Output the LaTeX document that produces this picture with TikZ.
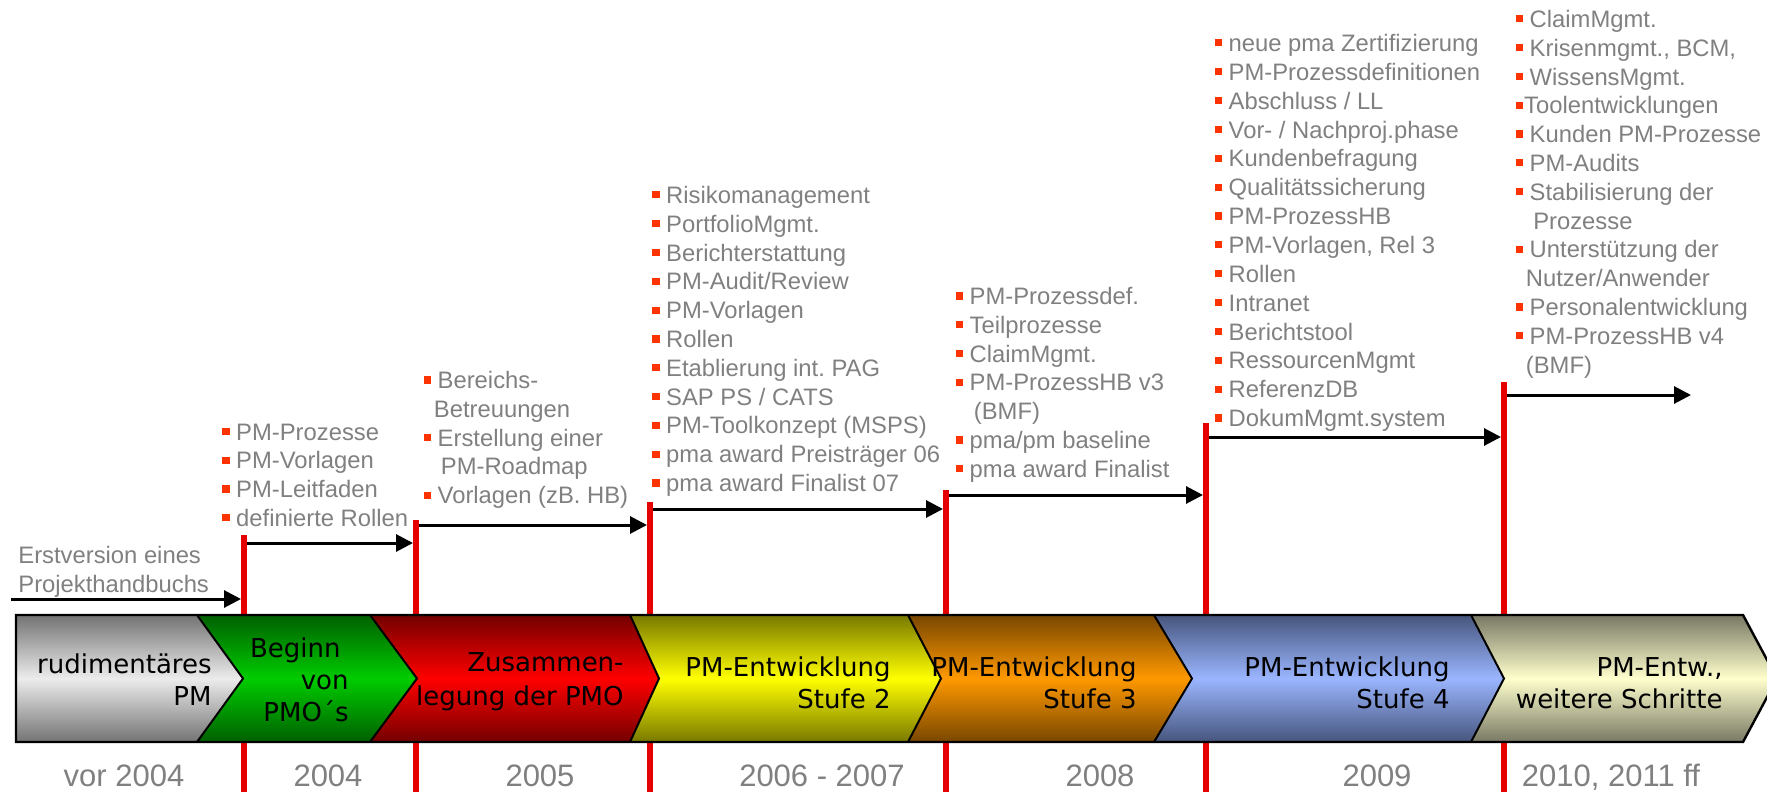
\documentclass[tikz,border=0pt]{standalone}
\usepackage{fontspec}
\setmainfont{Liberation Sans}
\newfontfamily\chevfont{DejaVu Sans}
\usetikzlibrary{arrows.meta}
\definecolor{txtgray}{RGB}{128,128,128}
\definecolor{bulred}{RGB}{255,51,0}
\definecolor{linered}{RGB}{228,0,0}
\definecolor{grayD}{RGB}{115,115,115}\definecolor{grayL}{RGB}{236,236,236}
\definecolor{greenD}{RGB}{0,95,0}\definecolor{greenL}{RGB}{0,204,0}
\definecolor{redD}{RGB}{115,0,0}\definecolor{redL}{RGB}{255,0,0}
\definecolor{yelD}{RGB}{120,120,0}\definecolor{yelL}{RGB}{255,255,0}
\definecolor{oraD}{RGB}{120,70,0}\definecolor{oraL}{RGB}{255,153,0}
\definecolor{bluD}{RGB}{70,85,125}\definecolor{bluL}{RGB}{155,182,255}
\definecolor{beiD}{RGB}{120,120,100}\definecolor{beiL}{RGB}{255,255,205}
\newcommand{\bul}{\textcolor{bulred}{\rule[2.5pt]{3.6pt}{3.6pt}}\ }
\newcommand{\bulns}{\textcolor{bulred}{\rule[2.5pt]{3.6pt}{3.6pt}}\hspace{0.5pt}}
\frenchspacing
\begin{document}
\begin{tikzpicture}[x=0.5pt,y=-0.5pt,
  lst/.style={font=\fontsize{11.9}{14.4}\selectfont, text=txtgray, anchor=base west, inner sep=0pt},
  yr/.style={font=\fontsize{15.5}{18}\selectfont, text=txtgray, anchor=base, inner sep=0pt},
  chev/.style={font=\chevfont\fontsize{13}{16}\selectfont, align=right, anchor=east, inner sep=0pt},
  arr/.style={line width=1.5pt, -{Triangle[length=8.5pt,width=8.5pt]}, shorten >=1.5pt},
  redline/.style={draw=linered, line width=3pt},
  barline/.style={draw=black, line width=1pt, line join=miter}]
\clip (0,0) rectangle (1767,792);
\path[use as bounding box] (0,0) rectangle (1767,792);

% red milestone lines
\coordinate (L1t) at (244,535); \coordinate (L1b) at (244,792);
\coordinate (L2t) at (416,520); \coordinate (L2b) at (416,792);
\coordinate (L3t) at (650,502); \coordinate (L3b) at (650,792);
\coordinate (L4t) at (946,490); \coordinate (L4b) at (946,792);
\coordinate (L5t) at (1206,423); \coordinate (L5b) at (1206,792);
\coordinate (L6t) at (1504,382); \coordinate (L6b) at (1504,792);
\foreach \k in {1,...,6} \draw[redline] (L\k t) -- (L\k b);

% chevron bar
\shade[top color=grayD, bottom color=grayD, middle color=grayL]
  (16,615) -- (197,615) -- (243,678.5) -- (197,742) -- (16,742) -- cycle;
\shade[top color=greenD, bottom color=greenD, middle color=greenL]
  (197,615) -- (370,615) -- (417,678.5) -- (370,742) -- (197,742) -- (243,678.5) -- cycle;
\shade[top color=redD, bottom color=redD, middle color=redL]
  (370,615) -- (630,615) -- (659,678.5) -- (630,742) -- (370,742) -- (417,678.5) -- cycle;
\shade[top color=yelD, bottom color=yelD, middle color=yelL]
  (630,615) -- (908,615) -- (941,678.5) -- (908,742) -- (630,742) -- (659,678.5) -- cycle;
\shade[top color=oraD, bottom color=oraD, middle color=oraL]
  (908,615) -- (1154,615) -- (1192,678.5) -- (1154,742) -- (908,742) -- (941,678.5) -- cycle;
\shade[top color=bluD, bottom color=bluD, middle color=bluL]
  (1154,615) -- (1471,615) -- (1504,678.5) -- (1471,742) -- (1154,742) -- (1192,678.5) -- cycle;
\shade[top color=beiD, bottom color=beiD, middle color=beiL]
  (1471,615) -- (1743,615) -- (1777,678.5) -- (1743,742) -- (1471,742) -- (1504,678.5) -- cycle;
\draw[barline, line width=1.2pt] (16,615) -- (1743,615) -- (1777,678.5) -- (1743,742) -- (16,742) -- cycle;
\draw[barline] (197,615) -- (243,678.5) -- (197,742);
\draw[barline] (370,615) -- (417,678.5) -- (370,742);
\draw[barline] (630,615) -- (659,678.5) -- (630,742);
\draw[barline] (908,615) -- (941,678.5) -- (908,742);
\draw[barline] (1154,615) -- (1192,678.5) -- (1154,742);
\draw[barline] (1471,615) -- (1504,678.5) -- (1471,742);

% chevron texts
\node[chev] (c1) at (212,680) {rudimentäres\\PM};
\node[chev] (c2) at (349,680) {Beginn\hspace*{4pt}\\von\\PMO´s};
\node[chev, font=\chevfont\fontsize{13}{17}\selectfont] (c3) at (624,682) {Zusammen-\\legung der PMO};
\node[chev] (c4) at (891,683) {PM-Entwicklung\\Stufe 2};
\node[chev] (c5) at (1137,683) {PM-Entwicklung\\Stufe 3};
\node[chev] (c6) at (1450,683) {PM-Entwicklung\\Stufe 4};
\node[chev] (c7) at (1723,683) {PM-Entw.,\\weitere Schritte};

% year labels
\node[yr] (y1) at (124,786) {vor 2004};
\node[yr] (y2) at (328,786) {2004};
\node[yr] (y3) at (540,786) {2005};
\node[yr] (y4) at (822,786) {2006 - 2007};
\node[yr] (y5) at (1100,786) {2008};
\node[yr] (y6) at (1377,786) {2009};
\node[yr] (y7) at (1611,786) {2010, 2011 ff};

% arrows
\coordinate (a1s) at (11,599);
\coordinate (a2s) at (247,543);
\coordinate (a3s) at (419,525);
\coordinate (a4s) at (653,509);
\coordinate (a5s) at (949,495);
\coordinate (a6s) at (1209,437);
\coordinate (a7s) at (1507,395);
\coordinate (a7e) at (1691,395);
\draw[arr] (a1s) -- (L1t |- a1s);
\draw[arr] (a2s) -- (L2t |- a2s);
\draw[arr] (a3s) -- (L3t |- a3s);
\draw[arr] (a4s) -- (L4t |- a4s);
\draw[arr] (a5s) -- (L5t |- a5s);
\draw[arr] (a6s) -- (L6t |- a6s);
\draw[arr, shorten >=0pt] (a7s) -- (a7e);

% texts above
\node[lst] (E1) at (18,563.5) {Erstversion eines};
\node[lst] (E2) at (18,592) {Projekthandbuchs};

\foreach \t [count=\i] in {{\bul PM-Prozesse},{\bul PM-Vorlagen},{\bul PM-Leitfaden},{\bul definierte Rollen}}
  \node[lst] (A\i) at (222,{440+(\i-1)*28.8}) {\t};

\foreach \t [count=\i] in {{\bul Bereichs-},{\hspace*{5pt}Betreuungen},{\bul Erstellung einer},{\hspace*{8.5pt}PM-Roadmap},{\bul Vorlagen (zB. HB)}}
  \node[lst] (B\i) at (423.5,{388.5+(\i-1)*28.8}) {\t};

\foreach \t [count=\i] in {{\bul Risikomanagement},{\bul PortfolioMgmt.},{\bul Berichterstattung},{\bul PM-Audit/Review},{\bul PM-Vorlagen},{\bul Rollen},{\bul Etablierung int. PAG},{\bul SAP PS / CATS},{\bul PM-Toolkonzept (MSPS)},{\bul pma award Preisträger 06},{\bul pma award Finalist 07}}
  \node[lst] (C\i) at (652,{203.5+(\i-1)*28.8}) {\t};

\foreach \t [count=\i] in {{\bul PM-Prozessdef.},{\bul Teilprozesse},{\bul ClaimMgmt.},{\bul PM-ProzessHB v3},{\hspace*{9pt}(BMF)},{\bul pma/pm baseline},{\bul pma award Finalist}}
  \node[lst] (D\i) at (955.5,{304.5+(\i-1)*28.8}) {\t};

\foreach \t [count=\i] in {{\bul neue pma Zertifizierung},{\bul PM-Prozessdefinitionen},{\bul Abschluss / LL},{\bul Vor- / Nachproj.phase},{\bul Kundenbefragung},{\bul Qualitätssicherung},{\bul PM-ProzessHB},{\bul PM-Vorlagen, Rel 3},{\bul Rollen},{\bul Intranet},{\bul Berichtstool},{\bul RessourcenMgmt},{\bul ReferenzDB},{\bul DokumMgmt.system}}
  \node[lst] (F\i) at (1214.5,{51.5+(\i-1)*28.85}) {\t};

\foreach \t [count=\i] in {{\bul ClaimMgmt.},{\bul Krisenmgmt., BCM,},{\bul WissensMgmt.},{\bulns Toolentwicklungen},{\bul Kunden PM-Prozesse},{\bul PM-Audits},{\bul Stabilisierung der},{\hspace*{8.7pt}Prozesse},{\bul Unterstützung der},{\hspace*{5pt}Nutzer/Anwender},{\bul Personalentwicklung},{\bul PM-ProzessHB v4},{\hspace*{5pt}(BMF)}}
  \node[lst] (G\i) at (1515.5,{27.5+(\i-1)*28.8}) {\t};
\end{tikzpicture}
\end{document}
